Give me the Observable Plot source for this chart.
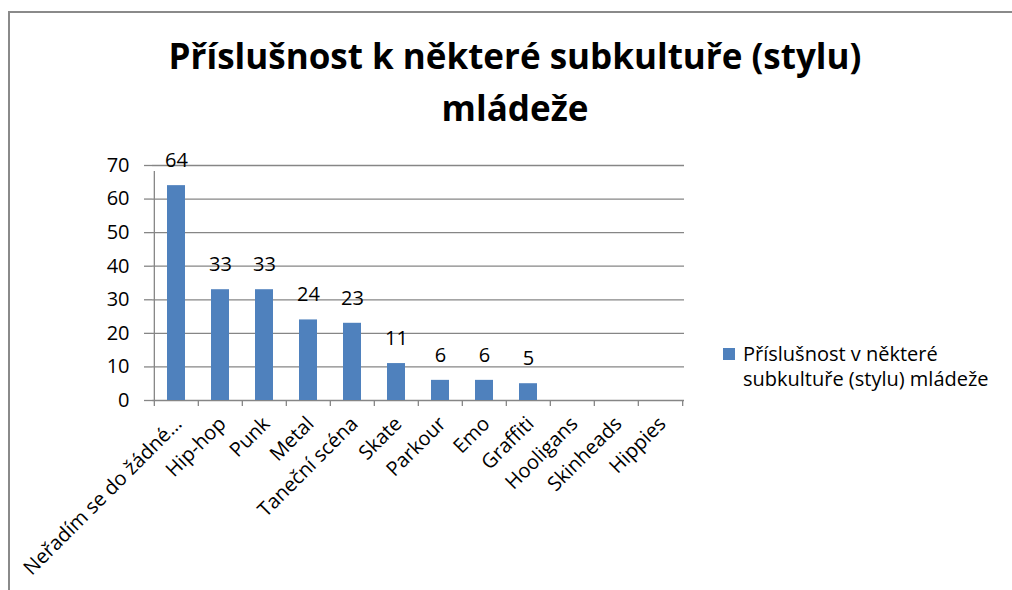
<!DOCTYPE html>
<html>
<head>
<meta charset="utf-8">
<script src="https://cdn.jsdelivr.net/npm/d3@7"></script>
<script src="https://cdn.jsdelivr.net/npm/@observablehq/plot@0.6"></script>
<style>
  html, body { margin: 0; padding: 0; background: #fff; overflow: hidden; }
  #wrap { position: relative; width: 1012px; height: 590px; font-family: "Open Sans", Lato, sans-serif; }
  #border { position: absolute; left: 8px; top: 11px; width: 1100px; height: 700px; border-left: 2px solid #8a8a8a; border-top: 2px solid #8a8a8a; }
  #title { position: absolute; left: 0; width: 1030px; top: 30px; text-align: center; font-weight: 700; font-size: 35px; line-height: 52px; color: #000; }
  #legend { position: absolute; left: 723px; top: 341px; font-size: 20px; line-height: 25px; color: #000; }
  #legend .sw { position: absolute; left: 0; top: 7px; width: 12px; height: 12px; background: #4F81BD; }
  #legend .tx { margin-left: 20px; white-space: nowrap; }
  #chart { position: absolute; left: 0; top: 0; }
</style>
</head>
<body>
<div id="wrap">
  <div id="border"></div>
  <div id="chart"></div>
  <div id="title">Příslušnost k některé subkultuře (stylu)<br>mládeže</div>
  <div id="legend"><div class="sw"></div><div class="tx">Příslušnost v některé<br>subkultuře (stylu) mládeže</div></div>
</div>
<script>
const categories = ["Neřadím se do žádné…", "Hip-hop", "Punk", "Metal", "Taneční scéna", "Skate", "Parkour", "Emo", "Graffiti", "Hooligans", "Skinheads", "Hippies"];
const values = [64, 33, 33, 24, 23, 11, 6, 6, 5, 0, 0, 0];
const yTicks = [0, 10, 20, 30, 40, 50, 60, 70];

const data = categories.map((c, i) => ({c, v: values[i]}));

const W = 1012, H = 590, mL = 152, mR = 328, mT = 165, mB = 190;
const half = (W - mL - mR) / categories.length / 2;
const gray = "#868686";
const font = "'Open Sans', Lato, sans-serif";

const chart = Plot.plot({
  width: W, height: H,
  marginLeft: mL, marginRight: mR, marginTop: mT, marginBottom: mB,
  x: {domain: categories, paddingInner: 0.6, paddingOuter: 0.3, align: 0.5},
  y: {domain: [0, 70]},
  style: {fontFamily: font, fontSize: "20px", color: "#000", background: "transparent"},
  marks: [
    Plot.gridY(yTicks, {stroke: gray, strokeOpacity: 1, strokeWidth: 1.3}),
    Plot.barY(data, {x: "c", y: "v", fill: "#4F81BD"}),
    Plot.text(data.filter(d => d.v > 0), {x: "c", y: "v", text: d => String(d.v), dy: -25, fontSize: 20, fill: "#000"}),
    Plot.axisY({ticks: yTicks, tickSize: 8, tickPadding: 15, stroke: gray, strokeWidth: 1.3, fontSize: 20, fill: "#000", label: null}),
    Plot.ruleX(categories, {x: d => d, dx: -half, y1: 0, y2: 0, insetBottom: -6, stroke: gray, strokeWidth: 1.3}),
    Plot.ruleX([categories[categories.length - 1]], {x: d => d, dx: half, y1: 0, y2: 0, insetBottom: -6, stroke: gray, strokeWidth: 1.3}),
    Plot.ruleX(categories.slice(0, 1), {x: d => d, dx: -half, y1: 0, y2: 70, insetBottom: -6, stroke: gray, strokeWidth: 1.3}),
    Plot.axisX({tickRotate: -45, tickSize: 0, tickPadding: 20, dx: 2, fontSize: 20, fill: "#000", label: null})
  ]
});
document.getElementById("chart").appendChild(chart);
</script>
</body>
</html>
